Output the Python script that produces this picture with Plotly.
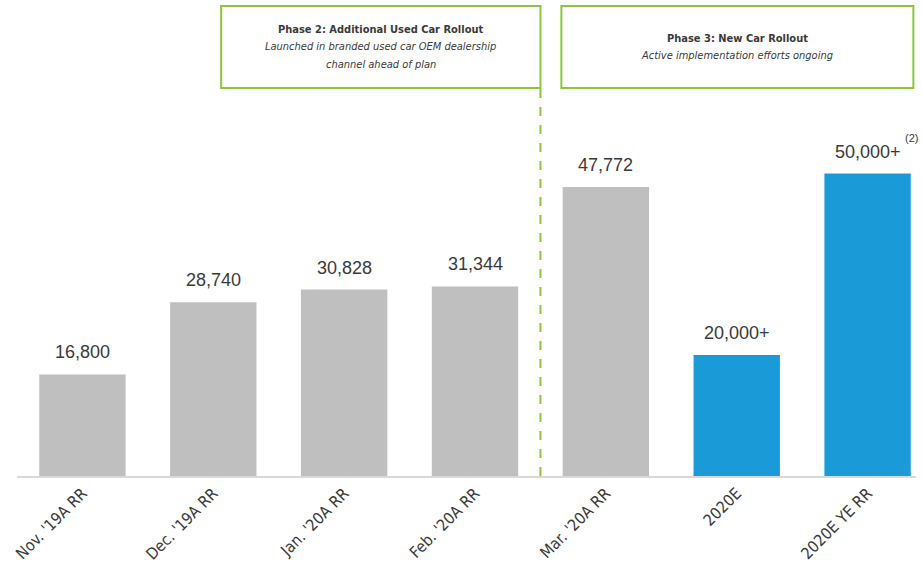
import plotly.graph_objects as go

# Monthly run-rate and 2020 estimates
categories = ["Nov. '19A RR", "Dec. '19A RR", "Jan. '20A RR", "Feb. '20A RR",
              "Mar. '20A RR", "2020E", "2020E YE RR"]
values = [16800, 28740, 30828, 31344, 47772, 20000, 50000]
suffixes = ["", "", "", "", "", "+", "+"]
is_estimate = [False, False, False, False, False, True, True]

GRAY = "#BFBFBF"
BLUE = "#1A9BD7"
GREEN = "#8CC63F"
TEXT = "#3A3A3A"
COND = "DejaVu Sans Condensed, Liberation Sans Narrow, Arial Narrow, sans-serif"
SANS = "Liberation Sans, Arial, sans-serif"

PLOT_H = 476  # plot area height in px (top margin 0)

labels = [f"{v:,}{s}" for v, s in zip(values, suffixes)]
colors = [BLUE if e else GRAY for e in is_estimate]

fig = go.Figure(go.Bar(
    x=categories,
    y=values,
    marker=dict(color=colors, line=dict(width=0)),
    hoverinfo="skip",
))

annotations = []
# Value labels above each bar
for c, v, lab in zip(categories, values, labels):
    annotations.append(dict(xref="x", yref="y", x=c, y=v, text=lab, showarrow=False,
                            yanchor="bottom", yshift=10,
                            font=dict(family=SANS, size=18, color=TEXT)))

# Footnote marker on the year-end run-rate label
annotations.append(dict(xref="x", yref="y", x=categories[6], y=values[6], text="(2)",
                        showarrow=False, xshift=44, yshift=36,
                        font=dict(family=SANS, size=11, color=TEXT)))


def py(px):
    return 1 - px / PLOT_H


# Phase boxes and divider
phase_boxes = [
    dict(x0=1.06, x1=3.5,
         lines=[("b", "Phase 2: Additional Used Car Rollout"),
                ("i", "Launched in branded used car OEM dealership"),
                ("i", "channel ahead of plan")]),
    dict(x0=3.66, x1=6.35,
         lines=[("b", "Phase 3: New Car Rollout"),
                ("i", "Active implementation efforts ongoing")]),
]
shapes = []
box_top, box_bot, line_gap = 6, 88, 17.5
for b in phase_boxes:
    shapes.append(dict(type="rect", xref="x", yref="paper", x0=b["x0"], x1=b["x1"],
                       y0=py(box_bot), y1=py(box_top), line=dict(color=GREEN, width=2),
                       fillcolor="white", layer="above"))
    n = len(b["lines"])
    mid = (box_top + box_bot) / 2
    for k, (style, t) in enumerate(b["lines"]):
        ypx = mid + (k - (n - 1) / 2) * line_gap
        annotations.append(dict(xref="x", yref="paper", x=(b["x0"] + b["x1"]) / 2,
                                y=py(ypx), yanchor="middle", xanchor="center",
                                text=f"<{style}>{t}</{style}>", showarrow=False,
                                font=dict(family=COND, size=11, color=TEXT)))

shapes.append(dict(type="line", xref="x", yref="paper", x0=3.5, x1=3.5, y0=0, y1=py(box_bot),
                   line=dict(color=GREEN, width=2, dash="dash")))

fig.update_layout(
    width=922, height=579,
    margin=dict(l=17, r=6, t=0, b=579 - PLOT_H),
    paper_bgcolor="white", plot_bgcolor="white",
    bargap=0.34,
    showlegend=False,
    shapes=shapes,
    annotations=annotations,
    xaxis=dict(range=[-0.5, 6.37], showgrid=False, zeroline=False,
               showline=True, linecolor="#D9D9D9", linewidth=1.5,
               tickangle=-45, ticks="",
               tickfont=dict(family=COND, size=16, color=TEXT)),
    yaxis=dict(range=[0, 78700], visible=False, showgrid=False, zeroline=False),
)

fig.write_html("out.html")
